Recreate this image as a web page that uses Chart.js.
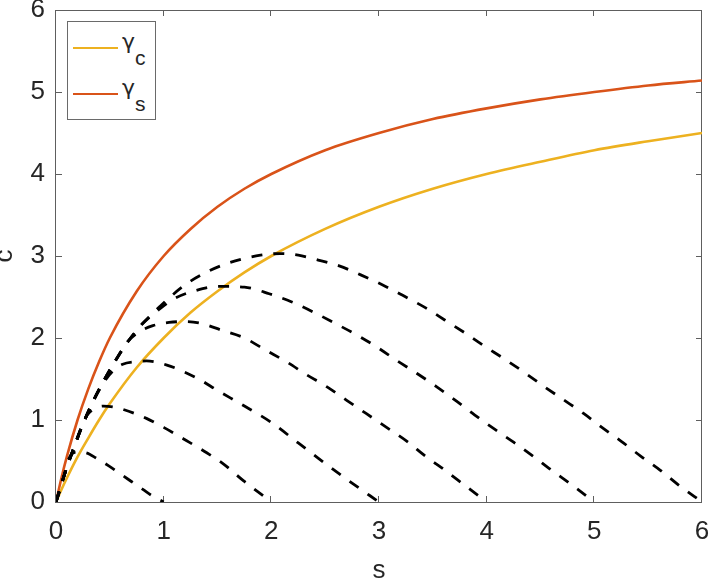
<!DOCTYPE html>
<html lang="en">
<head>
<meta charset="UTF-8">
<title>Trajetórias no plano s-c</title>
<script src="https://cdn.jsdelivr.net/npm/chart.js"></script>
<style>
  html, body { margin: 0; padding: 0; background: #fff; }
  #wrap { position: relative; width: 709px; height: 583px; }
  #grafico { position: absolute; left: 0; top: 0; }
  .legenda {
    position: absolute; left: 67px; top: 21px; width: 89px; height: 99px;
    box-sizing: border-box; border: 1px solid #6a6a6a; background: #fff;
    font-family: "Liberation Sans", Helvetica, Arial, sans-serif; color: #262626;
  }
  .amostra { position: absolute; left: 5px; width: 45px; height: 0; border-top: 2.5px solid; }
  .rotulo { position: absolute; left: 54px; font-size: 24px; line-height: 1; white-space: nowrap; }
  .rotulo .grego { font-family: "DejaVu Sans", sans-serif; font-size: 22px; }
  .rotulo sub { font-size: 21px; vertical-align: -16px; line-height: 1; }
</style>
</head>
<body>
<div id="wrap">
  <canvas id="grafico" width="709" height="583"></canvas>
  <div class="legenda">
    <div class="amostra" style="top:24.5px; border-color:#EDB120"></div>
    <span class="rotulo" style="top:6.5px"><span class="grego">γ</span><sub>c</sub></span>
    <div class="amostra" style="top:71px; border-color:#D95319"></div>
    <span class="rotulo" style="top:53px"><span class="grego">γ</span><sub>s</sub></span>
  </div>
</div>

<script>
  // eixos
  const xTicks = [0, 1, 2, 3, 4, 5, 6];
  const yTicks = [0, 1, 2, 3, 4, 5, 6];

  // curvas gamma_c e gamma_s
  const gammaS = [0, 0.05, 0.1, 0.2, 0.3, 0.4, 0.5, 0.75, 1, 1.25, 1.5, 1.75, 2, 2.5, 3, 3.5, 4, 4.5, 5, 5.5, 6];
  const gammaCVals = [0, 0.15, 0.29, 0.55, 0.78, 1.0, 1.2, 1.64, 2.0, 2.31, 2.57, 2.8, 3.0, 3.33, 3.6, 3.82, 4.0, 4.15, 4.29, 4.4, 4.5];
  const gammaSVals = [0, 0.29, 0.55, 1.0, 1.38, 1.71, 2.0, 2.57, 3.0, 3.33, 3.6, 3.82, 4.0, 4.29, 4.5, 4.67, 4.8, 4.91, 5.0, 5.08, 5.14];

  // trajetorias tracejadas, partindo de (n, 0)
  const traj1S = [0, 0.04, 0.08, 0.11, 0.15, 0.2, 0.28, 0.38, 0.49, 0.59, 0.7, 0.81, 0.9, 1];
  const traj1C = [0, 0.17, 0.35, 0.5, 0.59, 0.61, 0.6, 0.53, 0.44, 0.35, 0.25, 0.15, 0.07, 0];

  const traj2S = [0, 0.04, 0.1, 0.16, 0.22, 0.29, 0.36, 0.44, 0.53, 0.62, 0.84, 1.0, 1.21, 1.4, 1.56, 1.74, 1.87, 2];
  const traj2C = [0, 0.17, 0.42, 0.64, 0.86, 1.06, 1.14, 1.17, 1.16, 1.13, 1.02, 0.91, 0.75, 0.6, 0.46, 0.26, 0.13, 0];

  const traj3S = [0, 0.04, 0.1, 0.16, 0.25, 0.35, 0.45, 0.53, 0.62, 0.73, 0.84, 1.03, 1.31, 1.5, 1.75, 2.0, 2.25, 2.5, 2.75, 3];
  const traj3C = [0, 0.17, 0.42, 0.64, 0.95, 1.24, 1.47, 1.6, 1.68, 1.71, 1.72, 1.67, 1.51, 1.36, 1.17, 0.97, 0.72, 0.47, 0.23, 0];

  const traj4S = [0, 0.04, 0.1, 0.16, 0.25, 0.35, 0.44, 0.55, 0.67, 0.78, 0.9, 1.05, 1.2, 1.34, 1.55, 1.75, 1.95, 2.14, 2.33, 2.51, 2.7, 2.88, 3.07, 3.26, 3.43, 3.61, 3.79, 4];
  const traj4C = [0, 0.17, 0.42, 0.64, 0.95, 1.24, 1.47, 1.72, 1.96, 2.08, 2.15, 2.19, 2.2, 2.18, 2.09, 2.0, 1.85, 1.71, 1.55, 1.41, 1.24, 1.08, 0.91, 0.74, 0.56, 0.39, 0.21, 0];

  const traj5S = [0, 0.04, 0.1, 0.16, 0.25, 0.35, 0.44, 0.55, 0.67, 0.8, 0.95, 1.1, 1.3, 1.5, 1.75, 1.98, 2.19, 2.4, 2.59, 2.79, 2.98, 3.16, 3.35, 3.53, 3.72, 3.89, 4.06, 4.25, 4.43, 4.6, 4.79, 5];
  const traj5C = [0, 0.17, 0.42, 0.64, 0.95, 1.24, 1.47, 1.72, 1.96, 2.17, 2.34, 2.48, 2.58, 2.63, 2.62, 2.54, 2.44, 2.31, 2.18, 2.04, 1.89, 1.73, 1.57, 1.41, 1.23, 1.06, 0.9, 0.73, 0.56, 0.39, 0.21, 0];

  const traj6S = [0, 0.04, 0.1, 0.16, 0.25, 0.35, 0.44, 0.55, 0.67, 0.8, 0.97, 1.18, 1.35, 1.55, 1.75, 1.9, 2.08, 2.25, 2.41, 2.63, 2.83, 3.03, 3.22, 3.43, 3.61, 3.8, 3.98, 4.17, 4.35, 4.52, 4.71, 4.9, 5.07, 5.25, 5.43, 5.61, 5.78, 6];
  const traj6C = [0, 0.17, 0.42, 0.64, 0.95, 1.24, 1.47, 1.72, 1.96, 2.17, 2.39, 2.63, 2.77, 2.89, 2.97, 3.01, 3.03, 3.01, 2.96, 2.88, 2.77, 2.65, 2.52, 2.37, 2.22, 2.06, 1.9, 1.74, 1.58, 1.42, 1.25, 1.08, 0.91, 0.74, 0.56, 0.39, 0.21, 0];

  const trajetorias = [[traj1S, traj1C], [traj2S, traj2C], [traj3S, traj3C], [traj4S, traj4C], [traj5S, traj5C], [traj6S, traj6C]];

  const pontos = (xs, ys) => xs.map((v, i) => ({ x: v, y: ys[i] }));
  const fonte = 'Helvetica, Arial, "Liberation Sans", sans-serif';

  // moldura com ticks para dentro (estilo matlab)
  const moldura = {
    id: 'moldura',
    beforeDatasetsDraw(chart) {
      const { ctx, chartArea: a, scales: { x, y } } = chart;
      ctx.save();
      ctx.strokeStyle = '#5e5e5e';
      ctx.lineWidth = 1;
      ctx.strokeRect(a.left - 0.5, a.top + 0.5, a.right - a.left, a.bottom - a.top);
      ctx.beginPath();
      x.ticks.forEach(t => {
        const px = Math.round(x.getPixelForValue(t.value)) - 0.5;
        ctx.moveTo(px, a.bottom); ctx.lineTo(px, a.bottom - 6);
        ctx.moveTo(px, a.top); ctx.lineTo(px, a.top + 6);
      });
      y.ticks.forEach(t => {
        const py = Math.round(y.getPixelForValue(t.value)) + 0.5;
        ctx.moveTo(a.left, py); ctx.lineTo(a.left + 6, py);
        ctx.moveTo(a.right, py); ctx.lineTo(a.right - 6, py);
      });
      ctx.stroke();
      ctx.restore();
    }
  };

  const datasets = [
    { label: 'γc', data: pontos(gammaS, gammaCVals), borderColor: '#EDB120', borderWidth: 2.6, order: 1 },
    { label: 'γs', data: pontos(gammaS, gammaSVals), borderColor: '#D95319', borderWidth: 2.6, order: 1 }
  ];
  trajetorias.forEach(([xs, ys], i) => {
    datasets.push({ label: 'n=' + (i + 1), data: pontos(xs, ys), borderColor: '#000', borderWidth: 2.8, borderDash: [11, 11], order: 0 });
  });
  datasets.forEach(d => { d.showLine = true; d.pointRadius = 0; d.fill = false; d.cubicInterpolationMode = 'monotone'; });

  new Chart(document.getElementById('grafico'), {
    type: 'scatter',
    data: { datasets },
    plugins: [moldura],
    options: {
      responsive: false,
      animation: false,
      layout: { padding: { left: 0, right: 7, top: 10, bottom: 0 } },
      plugins: { legend: { display: false }, tooltip: { enabled: false } },
      scales: {
        x: {
          type: 'linear', min: 0, max: 6,
          afterBuildTicks: s => { s.ticks = xTicks.map(v => ({ value: v })); },
          afterFit: s => { s.height = 81; s.paddingLeft = 0; s.paddingRight = 0; },
          grid: { display: false, drawTicks: false },
          border: { display: false },
          ticks: { padding: 14, color: '#262626', font: { family: fonte, size: 26 } },
          title: { display: true, text: 's', color: '#262626', font: { family: fonte, size: 26 }, padding: { top: 0, bottom: -3 } }
        },
        y: {
          type: 'linear', min: 0, max: 6,
          afterBuildTicks: s => { s.ticks = yTicks.map(v => ({ value: v })); },
          afterFit: s => { s.width = 56; s.paddingTop = 0; s.paddingBottom = 0; },
          grid: { display: false, drawTicks: false },
          border: { display: false },
          ticks: { padding: 11, color: '#262626', font: { family: fonte, size: 26 } },
          title: { display: true, text: 'c', color: '#262626', font: { family: fonte, size: 26 }, padding: { top: -11, bottom: 0 } }
        }
      }
    }
  });
</script>
</body>
</html>
